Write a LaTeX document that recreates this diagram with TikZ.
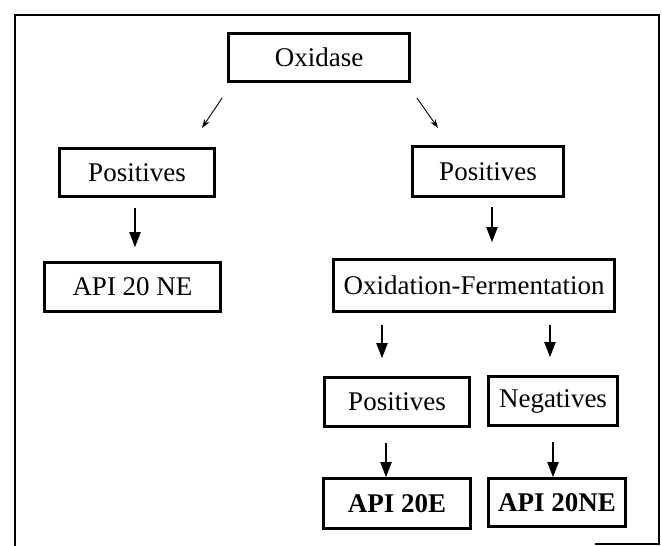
\documentclass[tikz,border=0pt]{standalone}
\usepackage{fontspec}
\setmainfont{Liberation Serif}
\usetikzlibrary{arrows.meta}
\begin{document}
\begin{tikzpicture}[x=1pt,y=-1pt,
  box/.style={draw, line width=2.6pt, inner sep=0pt, font=\fontsize{27}{30}\selectfont},
  wh/.style 2 args={minimum width=#1pt, minimum height=#2pt},
  arr/.style={-{Triangle[width=11pt,length=15pt]}, line width=2pt},
  tarr/.style={-{Stealth[width=6pt,length=9pt]}, line width=0.9pt},
  frame/.style={line width=2.5pt}]
\useasboundingbox (0,0) rectangle (662,546);
% outer frame (partly missing at the bottom, as in the scan)
\draw[frame] (595,544) -- (659,544) -- (659,15) -- (15,15) -- (15,546);
% boxes
\node[box, wh={181}{48}] (ox)   at (319,57.5)  {Oxidase};
\node[box, wh={155}{48}] (p1)   at (137,172.5) {Positives};
\node[box, wh={151}{50}] (p2)   at (488,171.5) {Positives};
\node[box, wh={176}{49}] (api1) at (132.5,287) {API 20 NE};
\node[box, wh={281}{52}] (of)   at (474,285.5) {Oxidation-Fermentation};
\node[box, wh={145}{49}] (p3)   at (397,402)   {Positives};
\node[box, wh={129}{49}] (neg)  at (553,401)   {Negatives};
\node[box, wh={147}{50}, font=\fontsize{27}{30}\selectfont\bfseries] (api2) at (397,503.5) {API 20E};
\node[box, wh={137}{48}, font=\fontsize{27}{30}\selectfont\bfseries] (api3) at (557,502.5) {API 20NE};
% thin diagonal arrows from Oxidase
\coordinate (lt) at (202,128);
\coordinate (rt) at (438,128);
\draw[tarr] ([shift={(-5,15)}]ox.south west) -- (lt);
\draw[tarr] ([shift={(6,15)}]ox.south east) -- (rt);
% thick vertical arrows
\draw[arr, shorten <=10pt, shorten >=14pt] ([xshift=-2pt]p1.south) -- ([xshift=-2pt]p1.south |- api1.north);
\draw[arr, shorten <=9pt, shorten >=16pt] ([xshift=4pt]p2.south) -- ([xshift=4pt]p2.south |- of.north);
\draw[arr, shorten <=12pt, shorten >=18pt] ([xshift=-92pt]of.south) -- ([xshift=-92pt]of.south |- p3.north);
\draw[arr, shorten <=12pt, shorten >=18pt] ([xshift=76pt]of.south) -- ([xshift=76pt]of.south |- neg.north);
\draw[arr, shorten <=15pt, shorten >=0pt] ([xshift=-11pt]p3.south) -- ([xshift=-11pt]p3.south |- api2.north);
\draw[arr, shorten <=15pt, shorten >=0pt] (neg.south) -- (neg.south |- api3.north);
\end{tikzpicture}
\end{document}
